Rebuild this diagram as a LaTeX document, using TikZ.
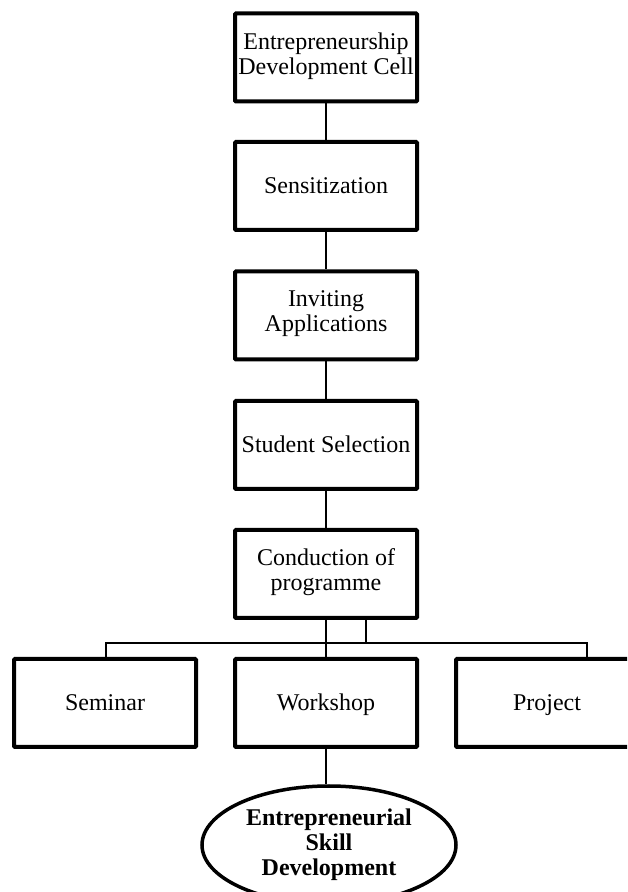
\documentclass[tikz,border=0pt]{standalone}
\usepackage{fontspec}
\setmainfont{Liberation Serif}
\usetikzlibrary{positioning}
\usetikzlibrary{shapes.geometric}

\begin{document}
\begin{tikzpicture}[x=1pt,y=1pt,
		stage/.style={draw, line width=4pt, rounded corners=1pt, minimum width=182pt, minimum height=88pt, inner sep=2pt, align=center, font=\fontsize{24}{25}\selectfont, execute at begin node={\rule[-8pt]{0pt}{32pt}}},
		goal/.style={draw, ellipse, line width=3.5pt, minimum width=254pt, minimum height=118pt, inner sep=0pt, align=center, font=\fontsize{24}{25}\selectfont\bfseries},
		link/.style={line width=1.6pt},
		branch/.style={line width=1.2pt}]
				% page size
				\useasboundingbox (0,0) rectangle (627,892);
				\clip (0,0) rectangle (627,892);
				
				% draw the chain of stages
				\node[stage] (edc) at (326,834.5) {Entrepreneurship\\Development Cell};
				\node[stage] (sens) at (326,706) {Sensitization};
				\node[stage] (invite) at (326,576.5) {Inviting\\Applications};
				\node[stage] (select) at (326,447) {Student Selection};
				\node[stage] (cond) at (326,318) {Conduction of\\programme};
				
				% draw the three activities
				\node[stage] (sem) at (105,189) {Seminar};
				\node[stage] (work) at (326,189) {Workshop};
				\node[stage] (proj) at (547,189) {Project};
				
				% draw the outcome
				\node[goal] (skill) at (329,47) {Entrepreneurial\\Skill\\Development};
				
				% draw connectors
				\foreach \a/\b in {edc/sens, sens/invite, invite/select, select/cond, cond/work}
					\draw[link] (\a) -- (\b);
				\draw[link] (work.south) -- (work.south |- skill.north);
				
				% draw branch bar
				\coordinate (barL) at (106,249);
				\coordinate (barR) at (587,249);
				\coordinate (stub) at (366,249);
				\draw[branch] (sem.north -| barL) -- (barL) -- (barR) -- (proj.north -| barR);
				\draw[branch] (cond.south -| stub) -- (stub);
			\end{tikzpicture}
\end{document}
